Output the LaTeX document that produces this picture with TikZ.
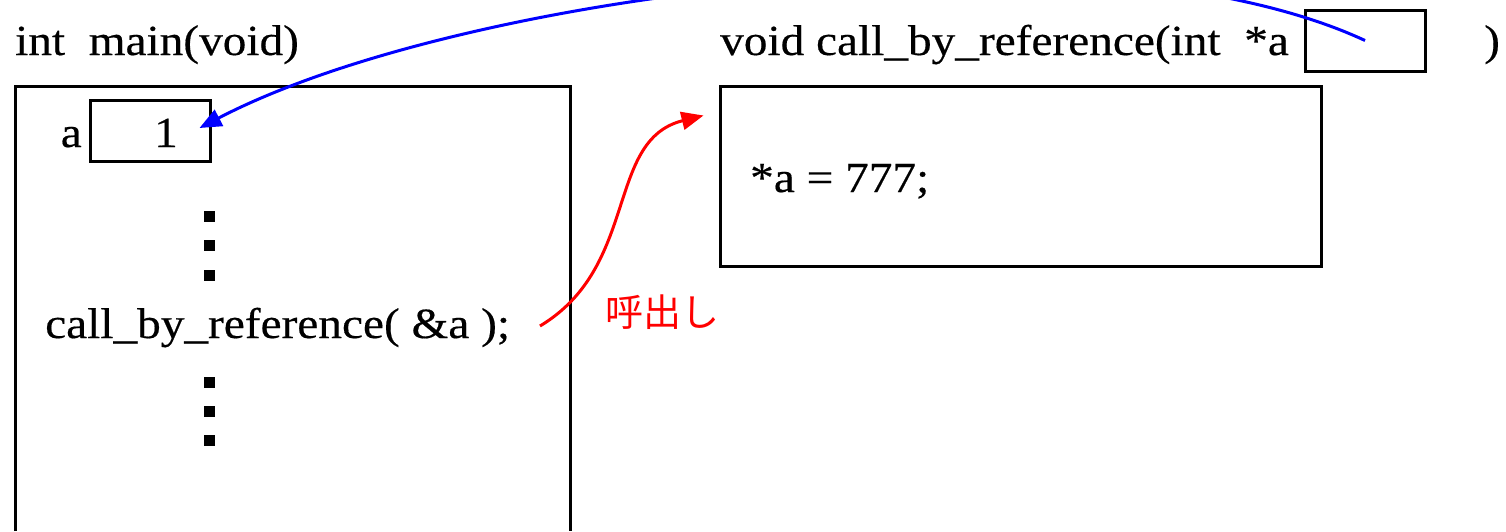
\documentclass[tikz,border=0pt]{standalone}
\usepackage{fontspec}
\setmainfont{Liberation Serif}[FakeStretch=1.1, FakeBold=0.4]
\newfontfamily\jpfont{Noto Sans CJK JP}
\usetikzlibrary{arrows.meta}
\definecolor{callRed}{HTML}{FF0000}
\definecolor{refBlue}{HTML}{0000FF}

\begin{document}
\begin{tikzpicture}[x=1pt, y=-1pt, >={Triangle[length=22pt, width=18pt]},
    code/.style={font=\fontsize{43}{48}\selectfont, inner sep=0pt, anchor=base west},
    frame/.style={draw, line width=3pt, inner sep=0pt},
    dot/.style={fill, minimum size=11pt, inner sep=0pt}]
    \useasboundingbox (0,0) rectangle (1506,531);
    % caller side
    \node[code] (mainhead) at (15,55) {int\ \ main(void)};
    \draw[line width=3pt] (15,531) -- (15,86) -- (570,86) -- (570,531);
    \node[frame, minimum width=120pt, minimum height=61pt] (abox) at (150,130.5) {};
    \node[code, anchor=base east] (aname) at (82,147) {a};
    \node[code, anchor=base east] (aval) at (178,147) {1};
    \foreach \y in {216,245,275,382,411,440}
        \node[dot] (d\y) at (209.5,\y) {};
    \node[code] (callline) at (45,338) {call\_by\_reference( \&a );};
    % callee side
    \node[code] (subhead) at (720,55) {void call\_by\_reference(int\ \ *a};
    \node[frame, minimum width=120pt, minimum height=61pt] (pbox) at (1365,40.5) {};
    \node[code] (close) at (1484,55) {)};
    \node[frame, minimum width=601pt, minimum height=180pt] (callee) at (1020.5,176) {};
    \node[code] (assign) at (750,192) {*a = 777;};
    % call and reference arrows
    \coordinate (callpt) at (540,326);
    \draw[callRed, line width=3pt, ->] (callpt) .. controls (640,266) and (605,140) .. ([xshift=-15pt, yshift=-31pt]callee.north west);
    \node[text=callRed, font=\jpfont\fontsize{38}{44}\selectfont, inner sep=0pt] (calllabel) at (662,312) {呼出し};
    \draw[refBlue, line width=3pt, ->] (pbox.center) .. controls (1093,-86) and (464,-10) .. ([xshift=-12pt, yshift=2.5pt]abox.east);
\end{tikzpicture}
\end{document}
